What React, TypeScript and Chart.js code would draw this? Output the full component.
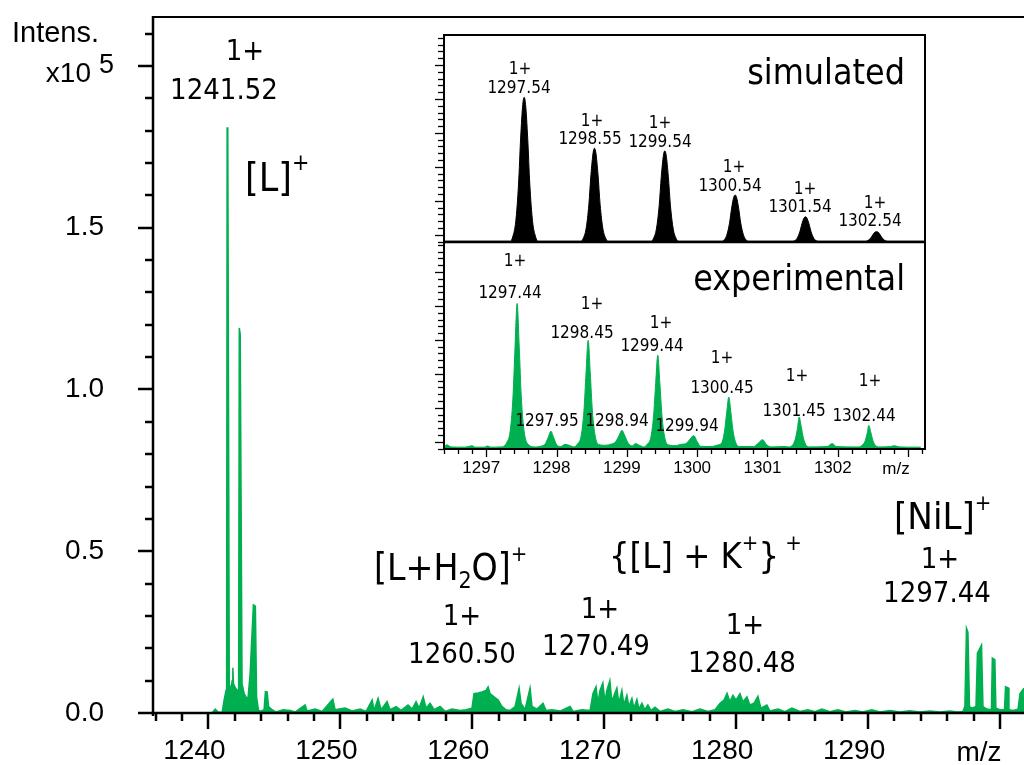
import React, { useEffect, useRef } from "react";
import { Chart, registerables } from "chart.js";

Chart.register(...registerables);

const GREEN = "#00b050";
const AXIS_FONT = '"Liberation Sans", Arial, sans-serif';
const ANN_FONT = '"DejaVu Sans Condensed", "DejaVu Sans", sans-serif';

// ---------------- main spectrum (intensity in x10^5) ----------------
const mainMz = [
  1235.8, 1240.28, 1240.51, 1240.74, 1241.04, 1241.19, 1241.34, 1241.38, 1241.42, 1241.47,
  1241.58, 1241.7, 1241.8, 1241.85, 1241.9, 1242.02, 1242.17, 1242.29, 1242.34, 1242.41,
  1242.55, 1242.71, 1242.9, 1243.01, 1243.16, 1243.41, 1243.56, 1243.65, 1243.79, 1243.92,
  1244.22, 1244.32, 1244.45, 1244.56, 1244.83, 1245.13, 1245.66, 1246.19, 1246.57, 1247.33,
  1247.48, 1248.09, 1248.62, 1249.43, 1249.6, 1250.36, 1250.89, 1251.5, 1251.95, 1252.41,
  1252.56, 1252.86, 1253.09, 1253.54, 1253.77, 1254.23, 1254.6, 1255.13, 1255.44, 1255.74,
  1255.97, 1256.28, 1256.5, 1256.8, 1257.11, 1257.56, 1257.94, 1258.47, 1259.08, 1259.53,
  1259.98, 1260.13, 1260.44, 1260.74, 1261.04, 1261.2, 1261.35, 1261.65, 1261.96, 1262.26,
  1262.56, 1262.87, 1263.25, 1263.55, 1263.7, 1264.0, 1264.38, 1264.53, 1264.91, 1265.36,
  1265.59, 1266.05, 1266.65, 1267.41, 1267.64, 1268.32, 1268.93, 1269.15, 1269.38, 1269.53,
  1269.68, 1269.9, 1270.05, 1270.2, 1270.43, 1270.58, 1270.8, 1270.96, 1271.11, 1271.34,
  1271.49, 1271.72, 1271.87, 1272.1, 1272.25, 1272.48, 1272.63, 1272.86, 1273.08, 1273.31,
  1273.55, 1273.85, 1274.23, 1274.84, 1275.37, 1275.97, 1276.66, 1277.26, 1277.87, 1278.4,
  1278.78, 1279.08, 1279.31, 1279.53, 1279.76, 1279.99, 1280.29, 1280.52, 1280.82, 1281.04,
  1281.35, 1281.65, 1281.88, 1282.33, 1282.56, 1283.17, 1283.7, 1284.23, 1284.84, 1285.44,
  1285.97, 1286.5, 1287.11, 1287.71, 1288.32, 1289.0, 1289.61, 1290.29, 1290.9, 1291.66,
  1292.41, 1293.17, 1293.93, 1294.69, 1295.45, 1296.2, 1296.81, 1297.19, 1297.34, 1297.46,
  1297.57, 1297.69, 1297.88, 1298.18, 1298.29, 1298.6, 1298.71, 1299.01, 1299.35, 1299.42,
  1299.61, 1299.69, 1299.99, 1300.34, 1300.42, 1300.61, 1300.68, 1300.99, 1301.37, 1301.52,
  1301.82,
];
const mainIntensity = [
  0, 0, 0.012, 0.003, 0.002, 0.04, 0.07, 0.09, 1.81, 1.79,
  0.09, 0.07, 0.1, 0.14, 0.09, 0.08, 0.07, 0.07, 1.19, 1.17,
  0.09, 0.06, 0.045, 0.05, 0.12, 0.334, 0.33, 0.05, 0.01, 0.005,
  0.01, 0.066, 0.065, 0.02, 0.01, 0.003, 0.01, 0.008, 0.003, 0.025,
  0.006, 0.012, 0.005, 0.043, 0.01, 0.015, 0.006, 0.012, 0.005, 0.04,
  0.008, 0.045, 0.01, 0.035, 0.01, 0.02, 0.008, 0.025, 0.012, 0.035,
  0.015, 0.05, 0.015, 0.03, 0.01, 0.02, 0.005, 0.012, 0.008, 0.01,
  0.015, 0.06, 0.062, 0.065, 0.07, 0.081, 0.06, 0.05, 0.04, 0.02,
  0.01, 0.008, 0.02, 0.077, 0.03, 0.01, 0.077, 0.02, 0.012, 0.03,
  0.008, 0.01, 0.006, 0.02, 0.005, 0.01, 0.008, 0.06, 0.081, 0.03,
  0.07, 0.093, 0.035, 0.07, 0.1, 0.035, 0.06, 0.077, 0.03, 0.07,
  0.025, 0.055, 0.02, 0.045, 0.015, 0.042, 0.012, 0.03, 0.01, 0.025,
  0.008, 0.018, 0.005, 0.012, 0.005, 0.01, 0.004, 0.012, 0.005, 0.01,
  0.03, 0.04, 0.061, 0.035, 0.055, 0.04, 0.06, 0.035, 0.05, 0.025,
  0.03, 0.052, 0.015, 0.025, 0.006, 0.012, 0.004, 0.015, 0.005, 0.01,
  0.004, 0.012, 0.004, 0.01, 0.003, 0.008, 0.003, 0.01, 0.003, 0.008,
  0.003, 0.007, 0.003, 0.006, 0.003, 0.006, 0.003, 0.005, 0.02, 0.262,
  0.25, 0.02, 0.015, 0.02, 0.185, 0.21, 0.02, 0.012, 0.01, 0.17,
  0.165, 0.015, 0.01, 0.01, 0.081, 0.078, 0.01, 0.008, 0.012, 0.06,
  0.077,
];

const mainYLabelled = [0, 0.5, 1.0, 1.5];
const mainXLabelled = [1240, 1250, 1260, 1270, 1280, 1290];

// ---------------- inset: simulated isotope pattern (% of panel) ----------------
const simMz = [
  1296.4, 1297.34, 1297.38, 1297.42, 1297.46, 1297.49, 1297.52, 1297.54, 1297.56, 1297.59, 1297.62, 1297.66, 1297.7, 1297.74,
  1298.34, 1298.38, 1298.42, 1298.46, 1298.49, 1298.52, 1298.54, 1298.56, 1298.59, 1298.62, 1298.66, 1298.7, 1298.74,
  1299.34, 1299.38, 1299.42, 1299.46, 1299.49, 1299.52, 1299.54, 1299.56, 1299.59, 1299.62, 1299.66, 1299.7, 1299.74,
  1300.34, 1300.38, 1300.42, 1300.46, 1300.49, 1300.52, 1300.54, 1300.56, 1300.59, 1300.62, 1300.66, 1300.7, 1300.74,
  1301.34, 1301.38, 1301.42, 1301.46, 1301.49, 1301.52, 1301.54, 1301.56, 1301.59, 1301.62, 1301.66, 1301.7, 1301.74,
  1302.35, 1302.39, 1302.43, 1302.47, 1302.5, 1302.53, 1302.55, 1302.57, 1302.6, 1302.63, 1302.67, 1302.71, 1302.75,
  1303.24,
];
const simIntensity = [
  0, 0, 2.8, 9.8, 28, 50.3, 66.4, 69.9, 66.4, 50.3, 28, 9.8, 2.8, 0,
  0, 1.8, 6.3, 18.1, 32.6, 43, 45.3, 43, 32.6, 18.1, 6.3, 1.8, 0,
  0, 1.8, 6.2, 17.6, 31.7, 41.8, 44.0, 41.8, 31.7, 17.6, 6.2, 1.8, 0,
  0, 0.9, 3.2, 9.1, 16.3, 21.6, 22.7, 21.6, 16.3, 9.1, 3.2, 0.9, 0,
  0, 0.5, 1.7, 4.9, 8.8, 11.6, 12.2, 11.6, 8.8, 4.9, 1.7, 0.5, 0,
  0, 0.2, 0.7, 2.0, 3.6, 4.8, 5.0, 4.8, 3.6, 2.0, 0.7, 0.2, 0,
  0,
];

// ---------------- inset: experimental spectrum (% of panel) ----------------
const expMz = [
  1296.4, 1296.44, 1296.5, 1296.7, 1296.8, 1296.84, 1296.98, 1297.02, 1297.06, 1297.2,
  1297.26, 1297.29, 1297.34, 1297.38, 1297.41, 1297.44, 1297.47, 1297.5, 1297.54, 1297.59,
  1297.7, 1297.8, 1297.84, 1297.88, 1297.92, 1297.96, 1298.0, 1298.06, 1298.12, 1298.18,
  1298.25, 1298.3, 1298.35, 1298.39, 1298.42, 1298.45, 1298.48, 1298.51, 1298.55, 1298.6,
  1298.7, 1298.78, 1298.84, 1298.89, 1298.93, 1298.97, 1299.02, 1299.08, 1299.12, 1299.18,
  1299.24, 1299.29, 1299.34, 1299.38, 1299.41, 1299.44, 1299.47, 1299.5, 1299.54, 1299.59,
  1299.7, 1299.76, 1299.84, 1299.9, 1299.95, 1300.0, 1300.05, 1300.2, 1300.3, 1300.35,
  1300.39, 1300.42, 1300.45, 1300.48, 1300.51, 1300.55, 1300.6, 1300.8, 1300.86, 1300.93,
  1300.99, 1301.05, 1301.25, 1301.3, 1301.36, 1301.4, 1301.43, 1301.45, 1301.48, 1301.51,
  1301.55, 1301.6, 1301.85, 1301.92, 1301.98, 1302.2, 1302.3, 1302.35, 1302.39, 1302.42,
  1302.44, 1302.47, 1302.5, 1302.54, 1302.6, 1302.75, 1302.8, 1302.88, 1303.1, 1303.18,
];
const expIntensity = [
  0.9, 2.0, 1.0, 0.9, 1.6, 0.9, 0.9, 1.5, 0.9, 1.0,
  1.6, 3.0, 8.4, 24.6, 49.2, 70.3, 49.2, 24.6, 8.4, 2.5,
  1.0, 1.6, 2.5, 5.5, 8.6, 5.5, 2.2, 1.2, 2.2, 1.8,
  1.0, 2.5, 6.3, 18.4, 36.8, 52.5, 36.8, 18.4, 6.3, 2.2,
  1.8, 2.4, 3.5, 6.5, 9.0, 6.5, 2.8, 1.5, 2.6, 1.8,
  1.0, 2.3, 5.4, 15.9, 31.7, 45.3, 31.7, 15.9, 5.4, 2.0,
  1.6, 2.2, 2.6, 4.8, 6.5, 3.6, 1.3, 1.2, 2.0, 3.0,
  8.8, 17.6, 25.1, 17.6, 8.8, 3.0, 1.2, 1.2, 2.5, 4.5,
  2.0, 1.0, 1.2, 1.0, 2.0, 5.4, 10.8, 15.4, 10.8, 5.4,
  1.8, 1.0, 1.2, 2.6, 1.2, 1.0, 1.0, 2.0, 4.0, 8.0,
  11.4, 8.0, 4.0, 1.6, 1.0, 1.2, 1.6, 1.0, 0.9, 0.9,
];

const insetXLabelled = [1297, 1298, 1299, 1300, 1301, 1302];
const simPeakLabels = ["1297.54", "1298.55", "1299.54", "1300.54", "1301.54", "1302.54"];
const expPeakLabels = ["1297.44", "1298.45", "1299.44", "1300.45", "1301.45", "1302.44"];
const expMinorLabels = ["1297.95", "1298.94", "1299.94"];

// ---------------- helpers ----------------
type Seg = { t: string; size: number; dy?: number; family?: string };

function drawSegs(ctx: CanvasRenderingContext2D, segs: Seg[], x: number, y: number, align: "left" | "center" | "right" = "left") {
  const widths = segs.map((s) => {
    ctx.font = `${s.size}px ${s.family ?? ANN_FONT}`;
    return ctx.measureText(s.t).width;
  });
  const total = widths.reduce((a, b) => a + b, 0);
  let cx = align === "left" ? x : align === "center" ? x - total / 2 : x - total;
  ctx.textAlign = "left";
  ctx.textBaseline = "alphabetic";
  segs.forEach((s, i) => {
    ctx.font = `${s.size}px ${s.family ?? ANN_FONT}`;
    ctx.fillText(s.t, cx, y + (s.dy ?? 0));
    cx += widths[i];
  });
}

function centerText(ctx: CanvasRenderingContext2D, t: string, x: number, cy: number, size: number, family = ANN_FONT) {
  ctx.font = `${size}px ${family}`;
  ctx.textAlign = "center";
  ctx.textBaseline = "alphabetic";
  ctx.fillText(t, x, cy + 0.364 * size);
}

function line(ctx: CanvasRenderingContext2D, x1: number, y1: number, x2: number, y2: number) {
  ctx.beginPath();
  ctx.moveTo(x1, y1);
  ctx.lineTo(x2, y2);
  ctx.stroke();
}

const near = (a: number, b: number) => Math.abs(a - b) < 1e-6;

// ---------------- plugins ----------------
const whiteArea = {
  id: "whiteArea",
  beforeDraw(chart: any) {
    const { ctx, chartArea: a } = chart;
    ctx.save();
    ctx.fillStyle = "#fff";
    ctx.fillRect(a.left, a.top, a.right - a.left, a.bottom - a.top);
    ctx.restore();
  },
};

const mainDecor = {
  id: "mainDecor",
  afterDraw(chart: any) {
    const { ctx, chartArea: a, scales } = chart;
    const xs = scales.x;
    const ys = scales.y;
    ctx.save();
    ctx.strokeStyle = "#000";
    ctx.fillStyle = "#000";
    // frame
    ctx.lineWidth = 2;
    line(ctx, a.left, a.top, a.right, a.top);
    ctx.lineWidth = 2.5;
    line(ctx, a.left, a.top - 1, a.left, a.bottom + 3);
    line(ctx, a.left - 1, a.bottom, a.right, a.bottom);
    // y ticks
    for (let k = 0; k <= 21; k++) {
      const py = Math.round(ys.getPixelForValue(k / 10));
      const len = k % 5 === 0 ? 15 : 8;
      line(ctx, a.left - len, py, a.left, py);
    }
    // x ticks
    for (let v = 1236; v <= 1300; v += 2) {
      const px = Math.round(xs.getPixelForValue(v));
      const len = v % 10 === 0 ? 16 : 8;
      line(ctx, px, a.bottom, px, a.bottom + len);
    }
    // axis titles
    ctx.font = `29px ${AXIS_FONT}`;
    ctx.textAlign = "left";
    ctx.textBaseline = "alphabetic";
    ctx.fillText("Intens.", 12, 42);
    ctx.font = `28px ${AXIS_FONT}`;
    ctx.textAlign = "right";
    ctx.fillText("x10", 91, 82);
    ctx.textAlign = "left";
    ctx.font = `27px ${AXIS_FONT}`;
    ctx.fillText("5", 99, 73);
    ctx.font = `28px ${AXIS_FONT}`;
    ctx.textAlign = "center";
    ctx.fillText("m/z", 979, 761);

    // peak annotations
    centerText(ctx, "1+", 245, 49, 29);
    centerText(ctx, "1241.52", 224, 88, 29);
    drawSegs(ctx, [{ t: "[L]", size: 39 }, { t: "+", size: 23, dy: -21 }], 245, 191);

    drawSegs(ctx, [
      { t: "[L+H", size: 37 },
      { t: "2", size: 23, dy: 8 },
      { t: "O]", size: 37 },
      { t: "+", size: 22, dy: -19 },
    ], 374, 580);
    centerText(ctx, "1+", 462, 614, 29);
    centerText(ctx, "1260.50", 462, 652, 29);

    drawSegs(ctx, [
      { t: "{[L] + K", size: 36 },
      { t: "+", size: 22, dy: -18 },
      { t: "}", size: 36 },
      { t: " +", size: 22, dy: -18 },
    ], 609, 568);
    centerText(ctx, "1+", 600, 607, 29);
    centerText(ctx, "1270.49", 596, 644, 29);
    centerText(ctx, "1+", 745, 623, 29);
    centerText(ctx, "1280.48", 742, 661, 29);

    drawSegs(ctx, [{ t: "[NiL]", size: 38 }, { t: "+", size: 22, dy: -19 }], 894, 529);
    centerText(ctx, "1+", 940, 557, 29);
    centerText(ctx, "1297.44", 937, 591, 29);
    ctx.restore();
  },
};

const insetYTicks = (ctx: CanvasRenderingContext2D, ys: any, a: any) => {
  for (let k = 0; k <= 31; k++) {
    const v = 0.22 + 3.28 * k;
    if (v > 100) break;
    const py = Math.round(ys.getPixelForValue(v)) + 0.5;
    const len = k % 5 === 1 ? 9 : 6;
    line(ctx, a.left - len, py, a.left, py);
  }
};

const simDecor = {
  id: "simDecor",
  afterDraw(chart: any) {
    const { ctx, chartArea: a, scales } = chart;
    ctx.save();
    ctx.strokeStyle = "#000";
    ctx.fillStyle = "#000";
    ctx.lineWidth = 1.3;
    insetYTicks(ctx, scales.y, a);
    ctx.lineWidth = 2;
    line(ctx, a.left, a.top, a.right, a.top);
    line(ctx, a.left, a.top - 1, a.left, a.bottom);
    line(ctx, a.right, a.top - 1, a.right, a.bottom);
    ctx.lineWidth = 2.5;
    line(ctx, a.left, a.bottom, a.right + 1, a.bottom);
    // labels (page coords minus canvas offset 400,0)
    const pos = [
      [120, 68, 119, 87],
      [192, 120, 190, 138],
      [260, 122, 260, 141],
      [334, 166, 330, 185],
      [405, 188, 400, 206],
      [475, 202, 470, 220],
    ];
    simPeakLabels.forEach((lab, i) => {
      const [x1, y1, x2, y2] = pos[i];
      centerText(ctx, "1+", x1, y1, 17);
      centerText(ctx, lab, x2, y2, 17);
    });
    ctx.font = `35.5px ${ANN_FONT}`;
    ctx.textAlign = "right";
    ctx.textBaseline = "alphabetic";
    ctx.fillText("simulated", 505, 84);
    ctx.restore();
  },
};

const expDecor = {
  id: "expDecor",
  afterDraw(chart: any) {
    const { ctx, chartArea: a, scales } = chart;
    const xs = scales.x;
    ctx.save();
    ctx.strokeStyle = "#000";
    ctx.fillStyle = "#000";
    ctx.lineWidth = 1.3;
    insetYTicks(ctx, scales.y, a);
    for (let k = 0; k <= 34; k++) {
      const v = 1296.4 + 0.2 * k;
      const px = Math.round(xs.getPixelForValue(v)) + 0.5;
      const len = near(v, Math.round(v)) ? 8 : 5;
      line(ctx, px, a.bottom, px, a.bottom + len);
    }
    ctx.lineWidth = 2;
    line(ctx, a.left, a.top, a.left, a.bottom + 1);
    line(ctx, a.right, a.top, a.right, a.bottom + 1);
    line(ctx, a.left - 1, a.bottom, a.right + 1, a.bottom);
    ctx.lineWidth = 2.5;
    line(ctx, a.left, a.top, a.right + 1, a.top);
    // labels (page coords minus canvas offset 400,240)
    const pos = [
      [115, 20, 110, 52],
      [192, 63, 182, 92],
      [261, 82, 252, 105],
      [322, 117, 322, 147],
      [397, 135, 394, 170],
      [470, 140, 464, 175],
    ];
    expPeakLabels.forEach((lab, i) => {
      const [x1, y1, x2, y2] = pos[i];
      centerText(ctx, "1+", x1, y1, 17);
      centerText(ctx, lab, x2, y2, 17);
    });
    const mpos = [
      [147, 180],
      [217, 180],
      [287, 185],
    ];
    expMinorLabels.forEach((lab, i) => centerText(ctx, lab, mpos[i][0], mpos[i][1], 17));
    ctx.font = `35.5px ${ANN_FONT}`;
    ctx.textAlign = "right";
    ctx.textBaseline = "alphabetic";
    ctx.fillText("experimental", 505, 50);
    ctx.font = `17px ${AXIS_FONT}`;
    ctx.textAlign = "center";
    ctx.fillText("m/z", 496, 234);
    ctx.restore();
  },
};

export default function App() {
  const mainRef = useRef<HTMLCanvasElement>(null);
  const simRef = useRef<HTMLCanvasElement>(null);
  const expRef = useRef<HTMLCanvasElement>(null);

  useEffect(() => {
    const charts: Chart[] = [];
    const base = {
      animation: false as const,
      responsive: false,
      maintainAspectRatio: false,
      events: [] as any[],
    };

    charts.push(
      new Chart(mainRef.current!, {
        type: "line",
        data: {
          datasets: [
            {
              data: mainMz.map((x, i) => ({ x, y: mainIntensity[i] })),
              borderColor: GREEN,
              backgroundColor: GREEN,
              borderWidth: 1.5,
              pointRadius: 0,
              fill: "origin",
              tension: 0,
            },
          ],
        },
        options: {
          ...base,
          layout: { padding: { top: 17, right: 0, left: 0, bottom: 0 } },
          plugins: { legend: { display: false }, tooltip: { enabled: false } },
          scales: {
            x: {
              type: "linear",
              min: 1235.8,
              max: 1301.82,
              grid: { display: false, drawTicks: true, tickLength: 21 },
              border: { display: false },
              ticks: {
                stepSize: 2,
                autoSkip: false,
                maxRotation: 0,
                minRotation: 0,
                padding: 0,
                labelOffset: -14,
                color: "#000",
                font: { family: AXIS_FONT, size: 28 },
                callback: (v: any) => (mainXLabelled.some((l) => near(l, v)) ? String(v) : ""),
              },
              afterFit: (s: any) => {
                s.height = 52;
              },
            },
            y: {
              type: "linear",
              min: 0,
              max: 2.151,
              grid: { display: false, drawTicks: true, tickLength: 49 },
              border: { display: false },
              ticks: {
                stepSize: 0.1,
                autoSkip: false,
                padding: 0,
                color: "#000",
                font: { family: AXIS_FONT, size: 28 },
                callback: (v: any) => (mainYLabelled.some((l) => near(l, v)) ? Number(v).toFixed(1) : ""),
              },
              afterFit: (s: any) => {
                s.width = 153;
              },
            },
          },
        },
        plugins: [mainDecor],
      } as any)
    );

    charts.push(
      new Chart(simRef.current!, {
        type: "line",
        data: {
          datasets: [
            {
              data: simMz.map((x, i) => ({ x, y: simIntensity[i] })),
              borderColor: "#000",
              backgroundColor: "#000",
              borderWidth: 1,
              pointRadius: 0,
              fill: "origin",
              cubicInterpolationMode: "monotone",
            },
          ],
        },
        options: {
          ...base,
          layout: { padding: { top: 35, right: 15, left: 44, bottom: 3 } },
          plugins: { legend: { display: false }, tooltip: { enabled: false } },
          scales: {
            x: { type: "linear", min: 1296.4, max: 1303.24, display: false },
            y: { type: "linear", min: 0, max: 100, display: false },
          },
        },
        plugins: [whiteArea, simDecor],
      } as any)
    );

    charts.push(
      new Chart(expRef.current!, {
        type: "line",
        data: {
          datasets: [
            {
              data: expMz.map((x, i) => ({ x, y: expIntensity[i] })),
              borderColor: GREEN,
              backgroundColor: GREEN,
              borderWidth: 1,
              pointRadius: 0,
              fill: "origin",
              cubicInterpolationMode: "monotone",
            },
          ],
        },
        options: {
          ...base,
          layout: { padding: { top: 2, right: 15, left: 44, bottom: 0 } },
          plugins: { legend: { display: false }, tooltip: { enabled: false } },
          scales: {
            x: {
              type: "linear",
              min: 1296.4,
              max: 1303.24,
              grid: { display: false, drawTicks: true, tickLength: 9 },
              border: { display: false },
              ticks: {
                stepSize: 0.2,
                autoSkip: false,
                maxRotation: 0,
                minRotation: 0,
                padding: 0,
                labelOffset: -5,
                color: "#000",
                font: { family: AXIS_FONT, size: 17 },
                callback: (v: any) => (insetXLabelled.some((l) => near(l, v)) ? String(Math.round(v)) : ""),
              },
              afterFit: (s: any) => {
                s.height = 41;
              },
            },
            y: { type: "linear", min: 0, max: 100, display: false },
          },
        },
        plugins: [whiteArea, expDecor],
      } as any)
    );

    return () => charts.forEach((c) => c.destroy());
  }, []);

  return (
    <div style={{ position: "absolute", left: 0, top: 0, width: 1024, height: 765, background: "#fff", overflow: "hidden" }}>
      <canvas ref={mainRef} width={1024} height={765} style={{ position: "absolute", left: 0, top: 0 }} />
      <canvas ref={simRef} width={540} height={245} style={{ position: "absolute", left: 400, top: 0 }} />
      <canvas ref={expRef} width={540} height={250} style={{ position: "absolute", left: 400, top: 240 }} />
    </div>
  );
}
